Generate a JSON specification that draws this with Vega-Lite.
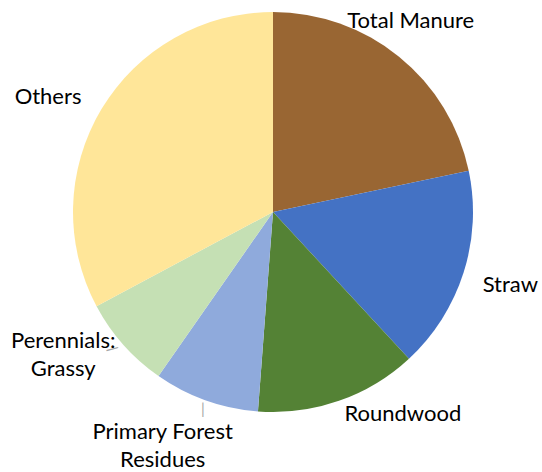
{
  "$schema": "https://vega.github.io/schema/vega-lite/v6.json",
  "width": 538,
  "height": 424,
  "autosize": "none",
  "padding": {"left": 4, "top": 0, "right": 0, "bottom": 48},
  "background": "white",
  "config": {"view": {"stroke": null}, "text": {"font": "Lato", "fontSize": 22, "fill": "#000000", "lineBreak": "\n", "lineHeight": 28}},
  "data": {"values": [
    {"idx": 1, "category": "Total Manure", "label": "Total Manure", "value": 21.7},
    {"idx": 2, "category": "Straw", "label": "Straw", "value": 16.4},
    {"idx": 3, "category": "Roundwood", "label": "Roundwood", "value": 13.1},
    {"idx": 4, "category": "Primary Forest Residues", "label": "Primary Forest\nResidues", "value": 8.5},
    {"idx": 5, "category": "Perennials: Grassy", "label": "Perennials:\nGrassy", "value": 7.5},
    {"idx": 6, "category": "Others", "label": "Others", "value": 32.8}
  ]},
  "encoding": {
    "theta": {"field": "value", "type": "quantitative", "stack": true},
    "order": {"field": "idx", "type": "quantitative"},
    "detail": {"field": "category", "type": "nominal"}
  },
  "layer": [
    {
      "mark": {"type": "arc", "outerRadius": 200},
      "encoding": {
        "color": {"field": "category", "type": "nominal", "legend": null,
          "scale": {"domain": ["Total Manure", "Straw", "Roundwood", "Primary Forest Residues", "Perennials: Grassy", "Others"],
                    "range": ["#996633", "#4472C4", "#548235", "#8FAADC", "#C5E0B4", "#FFE699"]}}
      }
    },
    {
      "mark": {"type": "text", "radius": 236, "dx": -11, "dy": -8},
      "encoding": {"text": {"condition": {"test": "datum.category === 'Total Manure'", "field": "label"}, "value": ""}}
    },
    {
      "mark": {"type": "text", "radius": 248, "dx": 1, "dy": -2},
      "encoding": {"text": {"condition": {"test": "datum.category === 'Straw'", "field": "label"}, "value": ""}}
    },
    {
      "mark": {"type": "text", "radius": 239, "dx": 51, "dy": -24},
      "encoding": {"text": {"condition": {"test": "datum.category === 'Roundwood'", "field": "label"}, "value": ""}}
    },
    {
      "mark": {"type": "text", "radius": 257, "dx": -24, "dy": -22},
      "encoding": {"text": {"condition": {"test": "datum.category === 'Primary Forest Residues'", "field": "label"}, "value": ""}}
    },
    {
      "mark": {"type": "text", "radius": 263, "dx": -13, "dy": -46},
      "encoding": {"text": {"condition": {"test": "datum.category === 'Perennials: Grassy'", "field": "label"}, "value": ""}}
    },
    {
      "mark": {"type": "text", "radius": 253, "dx": -8, "dy": 15},
      "encoding": {"text": {"condition": {"test": "datum.category === 'Others'", "field": "label"}, "value": ""}}
    },
    {
      "mark": {"type": "text", "radius": 212, "dx": 1, "dy": -3, "fontSize": 15, "fill": "#A6A6A6"},
      "encoding": {"text": {"condition": {"test": "datum.category === 'Primary Forest Residues'", "value": "|"}, "value": ""}}
    },
    {
      "mark": {"type": "text", "radius": 210, "dx": -3, "dy": -3, "fontSize": 18, "angle": 345, "fill": "#A6A6A6"},
      "encoding": {"text": {"condition": {"test": "datum.category === 'Perennials: Grassy'", "value": "—"}, "value": ""}}
    }
  ]
}
